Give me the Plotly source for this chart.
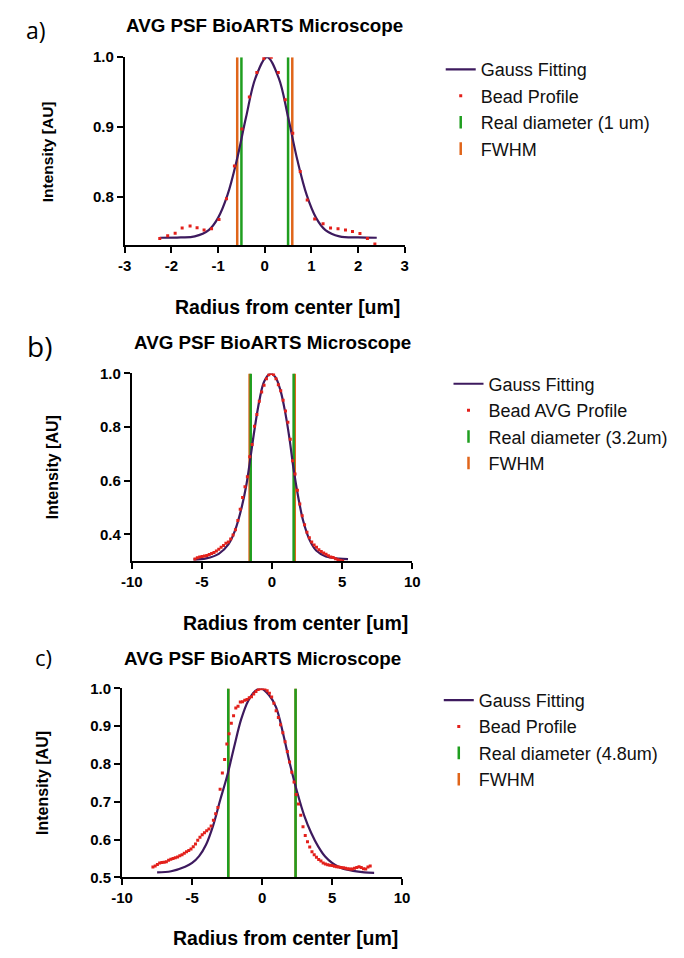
import plotly.graph_objects as go

W, H = 684, 958

# ---------------- Panel a : 1 um bead ----------------
a_fit_x = [-2.25, -1.8, -1.5, -1.2, -1.0, -0.8, -0.6, -0.4, -0.2, 0.05,
           0.3, 0.5, 0.7, 0.9, 1.1, 1.3, 1.6, 2.0, 2.4]
a_fit_y = [0.741, 0.7415, 0.743, 0.752, 0.7695, 0.802, 0.852, 0.914, 0.970, 1.0,
           0.970, 0.914, 0.852, 0.802, 0.7695, 0.752, 0.743, 0.7415, 0.741]
a_bead_x = [-2.25, -2.08, -1.92, -1.77, -1.60, -1.45, -1.30, -1.14, -0.98, -0.82,
            -0.65, -0.49, -0.33, -0.17, -0.02, 0.14, 0.29, 0.44, 0.60, 0.76,
            0.91, 1.07, 1.25, 1.41, 1.57, 1.73, 1.88, 2.04, 2.20, 2.36]
a_bead_y = [0.740, 0.744, 0.7475, 0.755, 0.758, 0.7555, 0.752, 0.754, 0.767, 0.797,
            0.844, 0.897, 0.943, 0.978, 0.998, 1.0, 0.978, 0.939, 0.891, 0.836,
            0.795, 0.768, 0.761, 0.755, 0.754, 0.752, 0.750, 0.747, 0.740, 0.732]
a_diameter = [-0.5, 0.5]
a_fwhm = [-0.59, 0.59]
a_xrange, a_yrange = [-3, 3], [0.73, 1.0]
a_xticks = [-3, -2, -1, 0, 1, 2, 3]
a_xticklabels = ["-3", "-2", "-1", "0", "1", "2", "3"]
a_yticks = [0.8, 0.9, 1.0]

# ---------------- Panel b : 3.2 um bead ----------------
b_fit_x = [-5.6, -4.7, -3.8, -3.1, -2.64, -2.17, -1.83, -1.55, -1.25, -0.9, -0.56, -0.1,
           0.25, 0.6, 0.95, 1.25, 1.53, 1.88, 2.22, 2.69, 3.15, 3.84, 4.77, 5.42]
b_fit_y = [0.307, 0.311, 0.328, 0.364, 0.415, 0.500, 0.585, 0.682, 0.791, 0.900, 0.970, 1.0,
           0.985, 0.937, 0.852, 0.755, 0.646, 0.536, 0.451, 0.378, 0.340, 0.318, 0.310, 0.308]
b_bead_x = [-5.50, -5.33, -5.16, -4.99, -4.82, -4.65, -4.48, -4.31, -4.14, -3.97,
            -3.80, -3.63, -3.46, -3.29, -3.12, -2.95, -2.78, -2.61, -2.44, -2.27,
            -2.10, -1.93, -1.76, -1.59, -1.42, -1.25, -1.08, -0.91, -0.74, -0.57,
            -0.40, -0.23, -0.06, 0.11, 0.28, 0.45, 0.62, 0.79, 0.96, 1.13,
            1.30, 1.47, 1.64, 1.81, 1.98, 2.15, 2.32, 2.49, 2.66, 2.83,
            3.00, 3.17, 3.34, 3.51, 3.68, 3.85, 4.02, 4.19, 4.36, 4.53,
            4.70, 4.87, 5.04]
b_bead_y = [0.309, 0.313, 0.316, 0.318, 0.320, 0.322, 0.325, 0.329, 0.333, 0.338,
            0.345, 0.352, 0.359, 0.367, 0.372, 0.383, 0.398, 0.418, 0.452, 0.494,
            0.538, 0.578, 0.615, 0.690, 0.735, 0.803, 0.847, 0.896, 0.931, 0.956,
            0.980, 0.995, 1.000, 0.996, 0.980, 0.958, 0.935, 0.900, 0.860, 0.818,
            0.755, 0.675, 0.625, 0.565, 0.514, 0.470, 0.436, 0.408, 0.388, 0.372,
            0.361, 0.352, 0.343, 0.337, 0.331, 0.326, 0.321, 0.316, 0.314, 0.310,
            0.306, 0.303, 0.301]
b_diameter = [-1.52, 1.54]
b_fwhm = [-1.6, 1.62]
b_xrange, b_yrange = [-10, 10], [0.3, 1.0]
b_xticks = [-10, -5, 0, 5, 10]
b_xticklabels = ["-10", "-5", "0", "5", "10"]
b_yticks = [0.4, 0.6, 0.8, 1.0]

# ---------------- Panel c : 4.8 um bead ----------------
c_fit_x = [-7.5, -6.5, -5.5, -5.0, -4.5, -4.0, -3.5, -3.0, -2.5, -2.0, -1.5, -1.0, -0.5, -0.1,
           0.5, 1.0, 1.5, 2.0, 2.5, 3.0, 3.5, 4.0, 4.5, 5.0, 5.5, 6.5, 7.3, 8.0]
c_fit_y = [0.513, 0.516, 0.528, 0.538, 0.556, 0.587, 0.637, 0.704, 0.768, 0.845, 0.918, 0.967, 0.993, 1.0,
           0.982, 0.950, 0.880, 0.798, 0.726, 0.664, 0.618, 0.582, 0.555, 0.538, 0.527, 0.517, 0.513, 0.512]
c_bead_x = [-7.80, -7.64, -7.48, -7.32, -7.16, -7.00, -6.84, -6.68, -6.52, -6.36,
            -6.20, -6.04, -5.88, -5.72, -5.56, -5.40, -5.24, -5.08, -4.92, -4.76,
            -4.60, -4.44, -4.28, -4.12, -3.96, -3.80, -3.64, -3.48, -3.32, -3.16,
            -3.00, -2.84, -2.68, -2.52, -2.36, -2.20, -2.04, -1.88, -1.72, -1.56,
            -1.40, -1.24, -1.08, -0.92, -0.76, -0.60, -0.44, -0.28, -0.12, 0.04,
            0.20, 0.36, 0.52, 0.68, 0.84, 1.00, 1.16, 1.32, 1.48, 1.64,
            1.80, 1.96, 2.12, 2.28, 2.44, 2.60, 2.76, 2.92, 3.08, 3.24,
            3.40, 3.56, 3.72, 3.88, 4.04, 4.20, 4.36, 4.52, 4.68, 4.84,
            5.00, 5.16, 5.32, 5.48, 5.64, 5.80, 5.96, 6.12, 6.28, 6.44,
            6.60, 6.76, 6.92, 7.08, 7.24, 7.40, 7.56, 7.72]
c_bead_y = [0.527, 0.530, 0.534, 0.538, 0.539, 0.540, 0.541, 0.545, 0.548, 0.550,
            0.552, 0.554, 0.557, 0.560, 0.564, 0.568, 0.571, 0.575, 0.581, 0.588,
            0.598, 0.606, 0.613, 0.618, 0.623, 0.628, 0.636, 0.651, 0.668, 0.685,
            0.733, 0.776, 0.812, 0.853, 0.880, 0.908, 0.928, 0.948, 0.953, 0.964,
            0.965, 0.969, 0.971, 0.975, 0.978, 0.985, 0.992, 0.997, 0.999, 1.000,
            0.999, 0.994, 0.987, 0.977, 0.961, 0.941, 0.923, 0.904, 0.883, 0.859,
            0.833, 0.805, 0.778, 0.752, 0.719, 0.694, 0.664, 0.634, 0.611, 0.594,
            0.580, 0.568, 0.560, 0.553, 0.547, 0.543, 0.538, 0.535, 0.533, 0.532,
            0.531, 0.529, 0.528, 0.527, 0.526, 0.525, 0.524, 0.523, 0.522, 0.522,
            0.524, 0.526, 0.528, 0.526, 0.523, 0.522, 0.527, 0.530]
c_diameter = [-2.42, 2.39]
c_fwhm = [-2.42, 2.39]
c_xrange, c_yrange = [-10, 10], [0.5, 1.0]
c_xticks = [-10, -5, 0, 5, 10]
c_xticklabels = ["-10", "-5", "0", "5", "10"]
c_yticks = [0.5, 0.6, 0.7, 0.8, 0.9, 1.0]

TITLE = "AVG PSF BioARTS Microscope"
X_TITLE = "Radius from center [um]"
Y_TITLE = "Intensity [AU]"

PURPLE = "#3d1a5e"
RED = "#e3201b"
GREEN = "#1f9e1f"
ORANGE = "#e0651a"
SANS = "Liberation Sans, Arial, sans-serif"


def px(x):
    return x / W


def py(y):
    return 1 - y / H


panels = [
    dict(suffix="", legend="legend", letter="a)", fit=(a_fit_x, a_fit_y), bead=(a_bead_x, a_bead_y),
         bead_name="Bead Profile", diam=a_diameter, diam_name="Real diameter (1 um)", fwhm=a_fwhm,
         xr=a_xrange, yr=a_yrange, xt=a_xticks, xtl=a_xticklabels, ytk=a_yticks,
         box=(117, 405, 49, 240.7), letter_pos=(26, 21, 23), title_y=17, xt_pos=(284.5, 303),
         ytitle=(37, 15.5), leg=(442, 43)),
    dict(suffix="2", legend="legend2", letter="b)", fit=(b_fit_x, b_fit_y), bead=(b_bead_x, b_bead_y),
         bead_name="Bead AVG Profile", diam=b_diameter, diam_name="Real diameter (3.2um)", fwhm=b_fwhm,
         xr=b_xrange, yr=b_yrange, xt=b_xticks, xtl=b_xticklabels, ytk=b_yticks,
         box=(124.3, 412.7, 371, 562.3), letter_pos=(29, 343, 28), title_y=340, xt_pos=(292.5, 625),
         ytitle=(43, 16), leg=(450, 363)),
    dict(suffix="3", legend="legend3", letter="c)", fit=(c_fit_x, c_fit_y), bead=(c_bead_x, c_bead_y),
         bead_name="Bead Profile", diam=c_diameter, diam_name="Real diameter (4.8um)", fwhm=c_fwhm,
         xr=c_xrange, yr=c_yrange, xt=c_xticks, xtl=c_xticklabels, ytk=c_yticks,
         box=(114.3, 402.3, 691.7, 884), letter_pos=(33, 660, 22), title_y=661, xt_pos=(282.5, 946),
         ytitle=(33, 16), leg=(440, 685)),
]

fig = go.Figure()
annotations = []
layout = {}

for p in panels:
    xa = "x" + p["suffix"]
    ya = "y" + p["suffix"]
    lo = p["yr"][0]

    def vlines(xs):
        vx, vy = [], []
        for v in xs:
            vx += [v, v, None]
            vy += [lo, 1.0, None]
        return vx, vy

    fx, fy = vlines(p["fwhm"])
    dx, dy = vlines(p["diam"])
    # vertical reference lines (FWHM under, real diameter above)
    fig.add_trace(go.Scatter(x=fx, y=fy, mode="lines", line=dict(color=ORANGE, width=2.5),
                             xaxis=xa, yaxis=ya, showlegend=False, hoverinfo="skip"))
    fig.add_trace(go.Scatter(x=dx, y=dy, mode="lines", line=dict(color=GREEN, width=2.5),
                             xaxis=xa, yaxis=ya, showlegend=False, hoverinfo="skip"))
    # Gaussian fit
    fig.add_trace(go.Scatter(x=p["fit"][0], y=p["fit"][1], mode="lines", name="Gauss Fitting",
                             line=dict(color=PURPLE, width=2.2, shape="spline"),
                             xaxis=xa, yaxis=ya, legend=p["legend"], legendrank=1))
    # measured bead profile
    fig.add_trace(go.Scatter(x=p["bead"][0], y=p["bead"][1], mode="markers", name=p["bead_name"],
                             marker=dict(color=RED, size=3, symbol="square"),
                             xaxis=xa, yaxis=ya, legend=p["legend"], legendrank=2))
    # legend keys for the vertical lines
    fig.add_trace(go.Scatter(x=[None], y=[None], mode="markers", name=p["diam_name"],
                             marker=dict(symbol="line-ns", size=9, line=dict(color=GREEN, width=2.5)),
                             xaxis=xa, yaxis=ya, legend=p["legend"], legendrank=3))
    fig.add_trace(go.Scatter(x=[None], y=[None], mode="markers", name="FWHM",
                             marker=dict(symbol="line-ns", size=9, line=dict(color=ORANGE, width=2.5)),
                             xaxis=xa, yaxis=ya, legend=p["legend"], legendrank=4))

    x0, x1, y0, y1 = p["box"]
    common = dict(showline=True, linecolor="black", linewidth=2, ticks="outside", ticklen=6,
                  tickwidth=2, tickcolor="black", showgrid=False, zeroline=False,
                  tickfont=dict(family=SANS, size=15, color="black", weight="bold"))
    layout["xaxis" + p["suffix"]] = dict(common, domain=[px(x0), px(x1)], range=p["xr"],
                                         tickvals=p["xt"], ticktext=p["xtl"], anchor=ya)
    layout["yaxis" + p["suffix"]] = dict(common, domain=[py(y1), py(y0)], range=p["yr"],
                                         tickvals=p["ytk"], tickformat=".1f", anchor=xa)

    layout[p["legend"]] = dict(x=px(p["leg"][0]), y=py(p["leg"][1]), xanchor="left", yanchor="top",
                               bgcolor="rgba(0,0,0,0)", itemwidth=30,
                               font=dict(family=SANS, size=18, color="#111"))

    lx, ly, ls = p["letter_pos"]
    annotations.append(dict(text=p["letter"], x=px(lx), y=py(ly), xref="paper", yref="paper",
                            showarrow=False, xanchor="center", yanchor="middle",
                            font=dict(family="Open Sans, sans-serif", size=ls, color="black")))
    annotations.append(dict(text=TITLE, x=px((x0 + x1) / 2), y=py(p["title_y"]), xref="paper",
                            yref="paper", showarrow=False, xanchor="center", yanchor="middle",
                            font=dict(family=SANS, size=18.8, color="black", weight="bold")))
    annotations.append(dict(text=X_TITLE, x=px(p["xt_pos"][0]), y=py(p["xt_pos"][1]), xref="paper",
                            yref="paper", showarrow=False, xanchor="center", yanchor="middle",
                            font=dict(family=SANS, size=19.5, color="black", weight="bold")))
    ytx, yts = p["ytitle"]
    annotations.append(dict(text=Y_TITLE, x=px(ytx), y=py((y0 + y1) / 2), xref="paper",
                            yref="paper", showarrow=False, xanchor="center", yanchor="middle",
                            textangle=-90,
                            font=dict(family=SANS, size=yts, color="black", weight="bold")))

fig.update_layout(
    width=W, height=H, margin=dict(l=0, r=0, t=0, b=0),
    paper_bgcolor="white", plot_bgcolor="white",
    annotations=annotations, **layout,
)

fig.write_html("out.html")
